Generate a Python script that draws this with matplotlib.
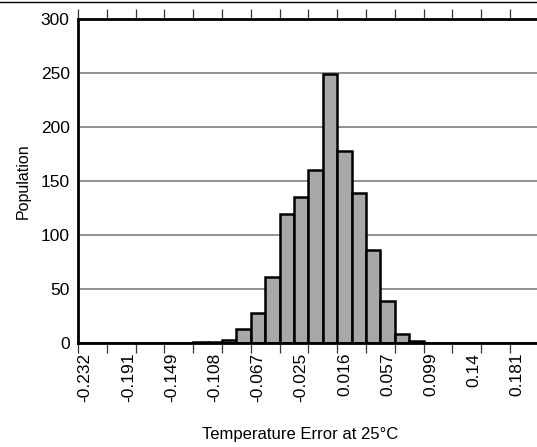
import matplotlib
matplotlib.use("Agg")
import matplotlib.pyplot as plt
from matplotlib.lines import Line2D
from matplotlib.ticker import FixedLocator

plt.rcParams['font.family'] = ['Liberation Sans', 'DejaVu Sans']

# Histogram bins (category index) and counts
bin_index = list(range(32))
counts = [0, 0, 0, 0, 0, 0, 0, 0, 1, 1, 3, 13, 28, 61, 119, 135,
          160, 249, 178, 139, 86, 39, 8, 2, 0, 0, 0, 0, 0, 0, 0, 0]
label_bins = [0, 3, 6, 9, 12, 15, 18, 21, 24, 27, 30]
tick_labels = ['-0.232', '-0.191', '-0.149', '-0.108', '-0.067', '-0.025',
               '0.016', '0.057', '0.099', '0.14', '0.181']
y_ticks = [0, 50, 100, 150, 200, 250, 300]

W, H = 537, 447
fig = plt.figure(figsize=(W / 100, H / 100), dpi=100)
ax = fig.add_axes([78 / W, (H - 343) / H, 1 - 78 / W, (343 - 19) / H])

ax.set_axisbelow(True)
for yv in y_ticks[1:-1]:
    ax.axhline(yv, color='#808080', lw=1.2, zorder=0)

ax.bar(bin_index, counts, width=1.0, align='center', color='#a8a8a8',
       edgecolor='black', linewidth=1.8, zorder=2)

ax.set_xlim(-0.5, 31.375)
ax.set_ylim(0, 300)

# major ticks: labels at bin centres, no marks
ax.xaxis.set_major_locator(FixedLocator(label_bins))
ax.set_xticklabels(tick_labels, rotation=90, fontsize=12.5, va='top', ha='center')
ax.tick_params(axis='x', which='major', length=0, pad=7)
# minor ticks: marks every two bins, top and bottom
ax.xaxis.set_minor_locator(FixedLocator([i * 2 - 0.5 for i in range(16)]))
ax.tick_params(axis='x', which='minor', length=7, width=0.9, color='#333333',
               top=True, bottom=True, direction='out')

ax.set_yticks(y_ticks)
ax.set_yticklabels([str(v) for v in y_ticks], fontsize=12.5)
ax.tick_params(axis='y', length=0, pad=6)

for side in ['left', 'bottom', 'top']:
    ax.spines[side].set_linewidth(2.0)
    ax.spines[side].set_color('black')
    ax.spines[side].set_zorder(5)
ax.spines['right'].set_visible(False)

ax.set_ylabel('Population', fontsize=11.5, labelpad=7)
fig.text(300 / W, 1 - 434 / H, 'Temperature Error at 25°C', fontsize=12,
         ha='center', va='center')

fig.add_artist(Line2D([0, 1], [1 - 1.5 / H] * 2, transform=fig.transFigure,
                      color='black', lw=1.0))

fig.savefig('out.png', dpi=100)
